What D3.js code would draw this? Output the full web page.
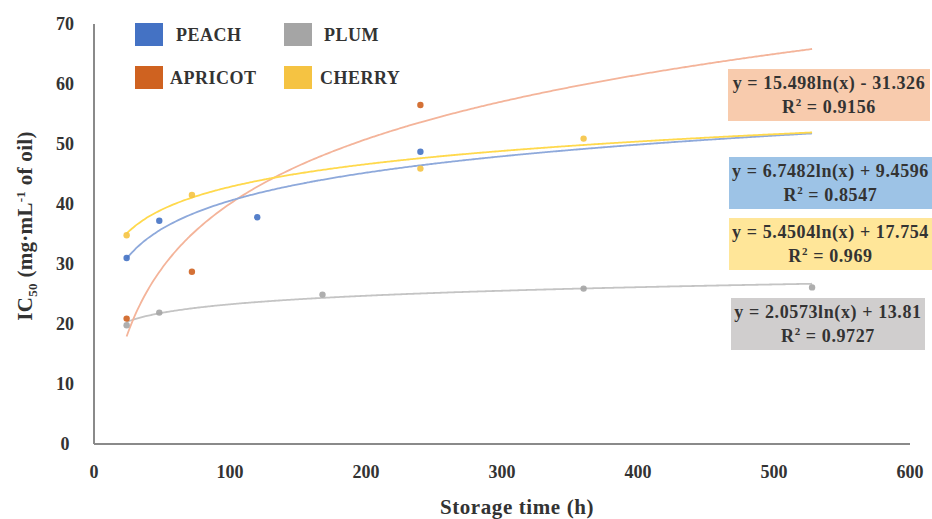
<!DOCTYPE html>
<html>
<head>
<meta charset="utf-8">
<script src="https://cdn.jsdelivr.net/npm/d3@7"></script>
<style>
  html, body { margin: 0; padding: 0; background: #fff; }
  svg { display: block; }
  text { font-family: "Liberation Serif", "DejaVu Serif", serif; font-weight: bold; fill: #333; }
</style>
</head>
<body>
<svg id="chart" width="932" height="519"></svg>
<script>
// ---------- data ----------
const seriesNames = ["PEACH", "APRICOT", "PLUM", "CHERRY"];
const peachX = [24, 48, 120, 240];
const peachY = [31.0, 37.2, 37.8, 48.7];
const apricotX = [24, 72, 240];
const apricotY = [20.9, 28.7, 56.5];
const plumX = [24, 48, 168, 360, 528];
const plumY = [19.8, 21.9, 24.9, 25.9, 26.1];
const cherryX = [24, 72, 240, 360];
const cherryY = [34.8, 41.5, 45.9, 50.9];
// logarithmic trend lines: y = a ln(x) + b
const trendA = [6.7482, 15.498, 2.0573, 5.4504];
const trendB = [9.4596, -31.326, 13.81, 17.754];
const trendR2 = ["0.8547", "0.9156", "0.9727", "0.969"];
const trendLabels = ["y = 6.7482ln(x) + 9.4596", "y = 15.498ln(x) - 31.326", "y = 2.0573ln(x) + 13.81", "y = 5.4504ln(x) + 17.754"];
const trendRange = [24, 528];
const xTicks = [0, 100, 200, 300, 400, 500, 600];
const yTicks = [0, 10, 20, 30, 40, 50, 60, 70];

// ---------- styles ----------
const markColors = ["#4472C4", "#CF6220", "#A5A5A5", "#F5C342"];
const lineColors = ["#8EA9DB", "#F4B49A", "#C4C4C4", "#FFD94D"];
const boxColors = ["#9DC3E6", "#F8CBAD", "#D0CECE", "#FFE699"];

const svg = d3.select("#chart");
const x = d3.scaleLinear().domain([0, 600]).range([94, 910]);
const y = d3.scaleLinear().domain([0, 70]).range([444, 24]);

// axes lines
svg.append("line").attr("x1", x(0)).attr("x2", x(600)).attr("y1", y(0)).attr("y2", y(0))
  .attr("stroke", "#8a8a8a").attr("stroke-width", 2);
svg.append("line").attr("x1", x(0)).attr("x2", x(0)).attr("y1", y(0)).attr("y2", y(70))
  .attr("stroke", "#8a8a8a").attr("stroke-width", 2);

// tick labels
svg.selectAll(".xt").data(xTicks).enter().append("text")
  .attr("x", d => x(d)).attr("y", 478).attr("text-anchor", "middle")
  .attr("font-size", 18).text(d => d);
svg.selectAll(".yt").data(yTicks).enter().append("text")
  .attr("x", 65).attr("y", d => y(d) + 6).attr("text-anchor", "middle")
  .attr("font-size", 18).text(d => d);

// axis titles
svg.append("text").attr("x", 517).attr("y", 514).attr("text-anchor", "middle")
  .attr("font-size", 21).attr("letter-spacing", 0.6).text("Storage time (h)");
const yt = svg.append("text").attr("transform", "translate(32,226) rotate(-90)")
  .attr("text-anchor", "middle").attr("font-size", 21).attr("letter-spacing", 0.3);
yt.append("tspan").text("IC");
yt.append("tspan").attr("font-size", 13).attr("dy", 5).text("50");
yt.append("tspan").attr("dy", -5).text(" (mg·mL");
yt.append("tspan").attr("font-size", 13).attr("dy", -7).text("-1");
yt.append("tspan").attr("dy", 7).text(" of oil)");

// trend lines
const xs = d3.range(trendRange[0], trendRange[1] + 0.001, 2);
const line = d3.line().x(d => x(d[0])).y(d => y(d[1])).curve(d3.curveMonotoneX);
const drawOrder = [2, 1, 0, 3];
drawOrder.forEach(i => {
  const pts = xs.map(v => [v, trendA[i] * Math.log(v) + trendB[i]]);
  svg.append("path").attr("d", line(pts)).attr("fill", "none")
    .attr("stroke", lineColors[i]).attr("stroke-width", 1.8);
});

// points
const allX = [peachX, apricotX, plumX, cherryX];
const allY = [peachY, apricotY, plumY, cherryY];
[2, 3, 0, 1].forEach(i => {
  svg.selectAll(null).data(allX[i].map((v, k) => [v, allY[i][k]])).enter().append("circle")
    .attr("cx", d => x(d[0])).attr("cy", d => y(d[1])).attr("r", 3.2)
    .attr("fill", markColors[i]).attr("opacity", 0.9);
});

// equation boxes
const boxY = [157, 69, 298, 218];
const boxX = [729, 728, 731, 729];
const boxW = [203, 202, 194, 203];
[1, 0, 3, 2].forEach(i => {
  const g = svg.append("g");
  g.append("rect").attr("x", boxX[i]).attr("y", boxY[i]).attr("width", boxW[i]).attr("height", 52)
    .attr("fill", boxColors[i]);
  const cx = boxX[i] + boxW[i] / 2;
  g.append("text").attr("x", cx).attr("y", boxY[i] + 20).attr("text-anchor", "middle")
    .attr("font-size", 18).attr("letter-spacing", 0.6).text(trendLabels[i]);
  const t = g.append("text").attr("x", cx).attr("y", boxY[i] + 44).attr("text-anchor", "middle")
    .attr("font-size", 18).attr("letter-spacing", 0.6);
  t.append("tspan").text("R");
  t.append("tspan").attr("font-size", 11).attr("dy", -7).text("2");
  t.append("tspan").attr("dy", 7).text(" = " + trendR2[i]);
});

// legend
const legX = [135, 135, 284, 284];
const legY = [23, 66, 23, 66];
const legTX = [176, 170, 324, 320];
seriesNames.forEach((n, i) => {
  svg.append("rect").attr("x", legX[i]).attr("y", legY[i]).attr("width", 28).attr("height", 23)
    .attr("fill", markColors[i]);
  svg.append("text").attr("x", legTX[i]).attr("y", legY[i] + 18).attr("font-size", 18)
    .attr("letter-spacing", 0.5).text(n);
});
</script>
</body>
</html>
